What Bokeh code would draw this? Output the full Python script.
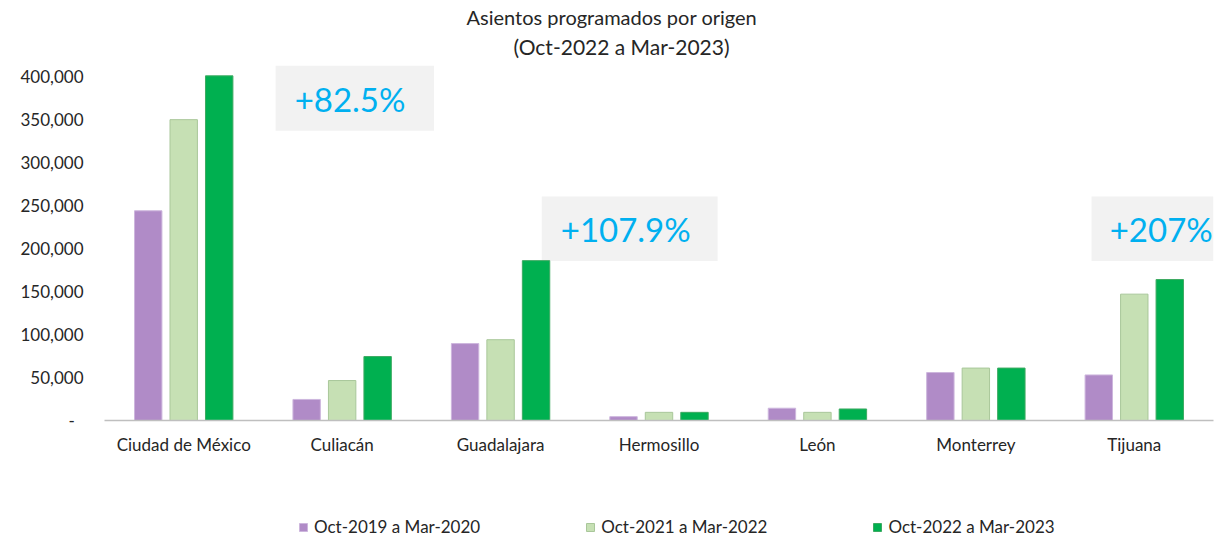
from bokeh.plotting import figure
from bokeh.layouts import column
from bokeh.models import (FactorRange, Range1d, FixedTicker, CustomJSTickFormatter,
                          BoxAnnotation, Label, Legend, LegendItem, Title, ColumnDataSource)
from bokeh.transform import dodge
from bokeh.embed import file_html
from bokeh.resources import INLINE

categories = ["Ciudad de México", "Culiacán", "Guadalajara", "Hermosillo", "León", "Monterrey", "Tijuana"]
series_names = ["Oct-2019 a Mar-2020", "Oct-2021 a Mar-2022", "Oct-2022 a Mar-2023"]
s2019 = [244000, 24500, 89500, 4500, 14300, 55800, 53000]
s2021 = [350000, 46500, 94000, 9500, 9500, 61000, 147000]
s2022 = [401000, 74400, 186000, 9500, 13400, 61000, 164000]
y_ticks = [0, 50000, 100000, 150000, 200000, 250000, 300000, 350000, 400000]
growth_labels = ["+82.5%", "+107.9%", "+207%"]

FONT = "Lato"
TXT = "#262626"
COLORS = ["#B08BC7", "#C6E0B4", "#00B050"]
EDGES = ["#CDB6DD", "#A9C79A", "#3DAA62"]

src = ColumnDataSource(dict(cat=categories, a=s2019, b=s2021, c=s2022))

p = figure(x_range=FactorRange(*categories), y_range=Range1d(0, 420000),
           frame_width=1109, frame_height=361, output_backend="svg", toolbar_location=None,
           min_border_left=104, min_border_right=4, min_border_top=59, min_border_bottom=80,
           title="Asientos programados por origen")
p.title.align = "left"
p.title.offset = 362
p.title.text_font = FONT
p.title.text_font_size = "20px"
p.title.text_font_style = "normal"
p.title.text_color = TXT
p.title.standoff = 4
p.add_layout(Title(text="(Oct-2022 a Mar-2023)", align="left", offset=409, text_font=FONT,
                   text_font_size="21px", text_font_style="normal", text_color=TXT, standoff=2), "above")

# annotation boxes (behind text)
boxes = [(1.08, 2.08, 337200, 412800), (2.76, 3.87, 185500, 260500), (6.23, 7.0, 185500, 260500)]
for l, r, b, t in boxes:
    p.add_layout(BoxAnnotation(left=l, right=r, bottom=b, top=t, fill_color="#F2F2F2",
                               fill_alpha=1, line_color=None, level="underlay"))

off = 0.224
w = 0.173
r1 = p.vbar(x=dodge("cat", -off, range=p.x_range), top="a", width=w, source=src,
            fill_color=COLORS[0], line_color=EDGES[0], line_width=1)
r2 = p.vbar(x=dodge("cat", 0, range=p.x_range), top="b", width=w, source=src,
            fill_color=COLORS[1], line_color=EDGES[1], line_width=1)
r3 = p.vbar(x=dodge("cat", off, range=p.x_range), top="c", width=w, source=src,
            fill_color=COLORS[2], line_color=EDGES[2], line_width=1)

label_pos = [(1.55, 374400), (3.29, 223000), (6.67, 223000)]
for (x, y), t in zip(label_pos, growth_labels):
    p.add_layout(Label(x=x, y=y, text=t, text_align="center", text_baseline="middle",
                       text_font=FONT, text_font_size="33px", text_color="#00B0F0"))

p.xgrid.grid_line_color = None
p.ygrid.grid_line_color = None
p.outline_line_color = None

p.yaxis.ticker = FixedTicker(ticks=y_ticks)
p.yaxis.formatter = CustomJSTickFormatter(code="""
    if (tick == 0) { return "-\u00a0\u00a0"; }
    return tick.toLocaleString('en-US');
""")
p.yaxis.axis_line_color = None
p.yaxis.major_tick_line_color = None
p.yaxis.minor_tick_line_color = None
p.yaxis.major_tick_out = 0
p.yaxis.major_label_standoff = 21
p.yaxis.major_label_text_font = FONT
p.yaxis.major_label_text_font_size = "17px"
p.yaxis.major_label_text_color = TXT

p.xaxis.axis_line_color = "#BFBFBF"
p.xaxis.axis_line_width = 1.5
p.xaxis.major_tick_line_color = None
p.xaxis.major_tick_out = 0
p.xaxis.major_label_standoff = 13
p.xaxis.major_label_text_font = FONT
p.xaxis.major_label_text_font_size = "17px"
p.xaxis.major_label_text_color = TXT

# legend strip below the chart (placeholder renderers carry only the legend swatches)
pl = figure(width=1217, height=38, x_range=Range1d(0, 1), y_range=Range1d(0, 1),
            output_backend="svg", toolbar_location=None,
            min_border_left=0, min_border_right=0, min_border_top=0, min_border_bottom=0)
pl.xaxis.visible = False
pl.yaxis.visible = False
pl.xgrid.grid_line_color = None
pl.ygrid.grid_line_color = None
pl.outline_line_color = None
items = []
for name, fc, lc in zip(series_names, COLORS, EDGES):
    rr = pl.vbar(x=[float("nan")], top=[float("nan")], width=0.1, fill_color=fc, line_color=lc)
    items.append(LegendItem(label=name, renderers=[rr]))
legend = Legend(items=items, orientation="horizontal", location=(194, 1), padding=0, spacing=105,
                glyph_width=10, glyph_height=10, label_standoff=6, margin=0,
                border_line_color=None, background_fill_alpha=0,
                label_text_font=FONT, label_text_font_size="17px", label_text_color=TXT)
pl.add_layout(legend)

open("out.html", "w").write(file_html(column(p, pl), INLINE))
